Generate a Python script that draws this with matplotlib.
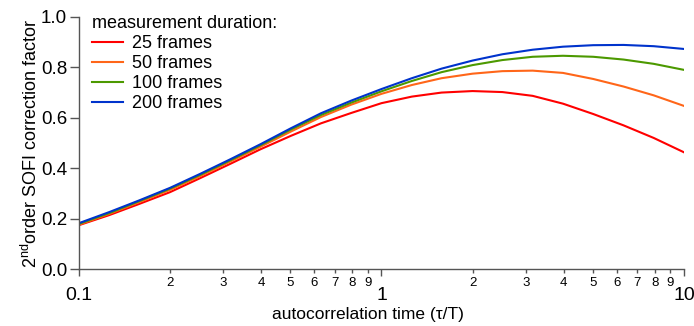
import matplotlib
matplotlib.use("Agg")
import matplotlib.pyplot as plt
from matplotlib.ticker import FixedLocator, FixedFormatter

plt.rcParams['font.family'] = ['Liberation Sans', 'DejaVu Sans']

# autocorrelation time tau/T
tau = [0.1, 0.126, 0.158, 0.2, 0.251, 0.316, 0.398, 0.501, 0.631, 0.794,
       1.0, 1.26, 1.58, 2.0, 2.51, 3.16, 3.98, 5.01, 6.31, 7.94, 10.0]

frames_25 = [0.174, 0.214, 0.258, 0.305, 0.360, 0.417, 0.475, 0.528, 0.578, 0.619,
             0.658, 0.684, 0.700, 0.706, 0.702, 0.687, 0.656, 0.615, 0.570, 0.520, 0.463]
frames_50 = [0.176, 0.219, 0.265, 0.314, 0.368, 0.426, 0.485, 0.545, 0.603, 0.652,
             0.695, 0.730, 0.757, 0.775, 0.785, 0.787, 0.778, 0.754, 0.724, 0.689, 0.647]
frames_100 = [0.179, 0.222, 0.269, 0.319, 0.373, 0.431, 0.491, 0.553, 0.611, 0.660,
              0.705, 0.746, 0.781, 0.809, 0.829, 0.842, 0.846, 0.842, 0.831, 0.814, 0.790]
frames_200 = [0.182, 0.226, 0.272, 0.322, 0.377, 0.435, 0.495, 0.558, 0.618, 0.668,
              0.714, 0.757, 0.795, 0.827, 0.852, 0.870, 0.882, 0.888, 0.889, 0.884, 0.873]

labels = ["25 frames", "50 frames", "100 frames", "200 frames"]
colors = ["#ff0000", "#ff6619", "#4c9900", "#0033cc"]

fig = plt.figure(figsize=(6.94, 3.26), dpi=100)
ax = fig.add_axes([0.1138, 0.1748, 0.9856 - 0.1138, 0.948 - 0.1748])

for ys, lab, c in zip([frames_25, frames_50, frames_100, frames_200], labels, colors):
    ax.plot(tau, ys, color=c, lw=1.5, label=lab, solid_joinstyle='round')

ax.set_xscale('log')
ax.set_xlim(0.1, 10)
ax.set_ylim(0, 1.0)

ax.spines['top'].set_visible(False)
ax.spines['right'].set_visible(False)
for s in ['left', 'bottom']:
    ax.spines[s].set_color('#555555')
    ax.spines[s].set_linewidth(1.0)

major_ticks = [0.1, 1, 10]
major_labels = ["0.1", "1", "10"]
minor_ticks = [m * d for d in (0.1, 1) for m in range(2, 10)]
minor_labels = [str(m) for d in (0.1, 1) for m in range(2, 10)]

ax.xaxis.set_major_locator(FixedLocator(major_ticks))
ax.xaxis.set_major_formatter(FixedFormatter(major_labels))
ax.xaxis.set_minor_locator(FixedLocator(minor_ticks))
ax.xaxis.set_minor_formatter(FixedFormatter(minor_labels))

ax.set_yticks([0.0, 0.2, 0.4, 0.6, 0.8, 1.0])
ax.set_yticklabels(["0.0", "0.2", "0.4", "0.6", "0.8", "1.0"])

ax.tick_params(axis='x', which='major', direction='out', length=5, width=1, color='#555555',
               labelsize=14, pad=8)
ax.tick_params(axis='x', which='minor', direction='out', length=3, width=1, color='#555555',
               labelsize=9.5, pad=2.5)
ax.tick_params(axis='y', which='major', direction='out', length=6.5, width=1, color='#555555',
               labelsize=13.5, pad=2)

ax.set_xlabel("autocorrelation time (\u03c4/T)", fontsize=12.5)
ax.xaxis.set_label_coords(0.478, -0.152)
ax.set_ylabel("2$^{\\mathregular{nd}}$order SOFI correction factor", fontsize=13, labelpad=0)

leg = ax.legend(title="measurement duration:", loc='upper left', bbox_to_anchor=(0.0, 1.058),
                frameon=False, fontsize=13, title_fontsize=13, handlelength=1.75,
                handletextpad=0.5, labelspacing=0.17, borderaxespad=0.3)
leg._legend_box.align = "left"

fig.savefig("out.png", dpi=100)
